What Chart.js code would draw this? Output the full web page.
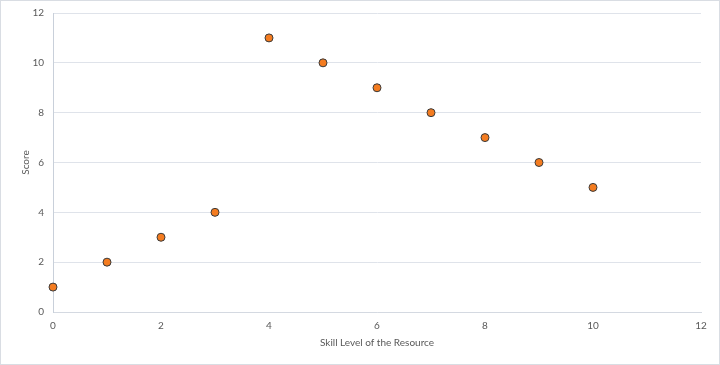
<!DOCTYPE html>
<html>
<head>
<meta charset="utf-8">
<script src="https://cdn.jsdelivr.net/npm/chart.js@4/dist/chart.umd.min.js"></script>
<style>
  html, body { margin: 0; padding: 0; background: #fff; }
  #wrap { width: 718px; height: 363px; border: 1px solid #d9dde3; position: relative; }
</style>
</head>
<body>
<div id="wrap"><canvas id="chart" width="718" height="363"></canvas></div>
<script>
// skill level vs score
const skillLevels = [0, 1, 2, 3, 4, 5, 6, 7, 8, 9, 10];
const scores = [1, 2, 3, 4, 11, 10, 9, 8, 7, 6, 5];
const xTicks = [0, 2, 4, 6, 8, 10, 12];
const yTicks = [0, 2, 4, 6, 8, 10, 12];

const textColor = "#595959";
const fontFamily = "Lato, 'Open Sans', sans-serif";

new Chart(document.getElementById("chart"), {
  type: "scatter",
  data: {
    datasets: [{
      data: skillLevels.map((x, i) => ({ x: x, y: scores[i] })),
      backgroundColor: "#f47c20",
      borderColor: "#3a3a3a",
      borderWidth: 1,
      pointRadius: 4,
      pointHoverRadius: 4,
      clip: false
    }]
  },
  options: {
    responsive: false,
    animation: false,
    layout: { padding: { top: 12, right: 18, left: 15, bottom: 11 } },
    plugins: { legend: { display: false }, tooltip: { enabled: false } },
    scales: {
      x: {
        type: "linear",
        min: 0, max: 12,
        afterBuildTicks: s => { s.ticks = xTicks.map(v => ({ value: v })); },
        afterFit: s => { s.height = 41; s.paddingLeft = 0; s.paddingRight = 0; },
        grid: { display: false, drawTicks: false },
        border: { color: "#d4d9e1" },
        ticks: { color: textColor, font: { family: fontFamily, size: 10 }, padding: 8 },
        title: { display: true, text: "Skill Level of the Resource", color: textColor, font: { family: fontFamily, size: 10 }, padding: { top: 4 } }
      },
      y: {
        type: "linear",
        min: 0, max: 12,
        afterBuildTicks: s => { s.ticks = yTicks.map(v => ({ value: v })); },
        afterFit: s => { s.width = 37; s.paddingTop = 0; s.paddingBottom = 0; },
        grid: { color: "#dfe3ea", drawTicks: false },
        border: { color: "#c9d0da" },
        ticks: { color: textColor, font: { family: fontFamily, size: 10 }, padding: 9 },
        title: { display: true, text: "Score", color: textColor, font: { family: fontFamily, size: 10 }, padding: { bottom: 2 } }
      }
    }
  }
});
</script>
</body>
</html>
